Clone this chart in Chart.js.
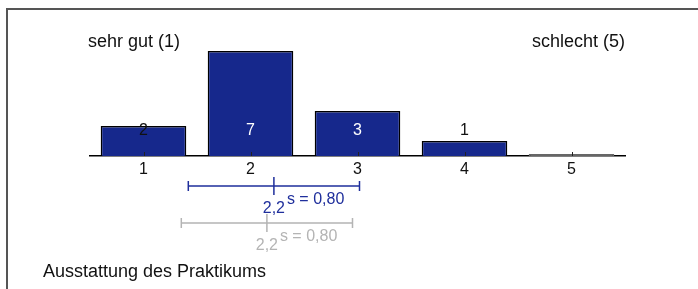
<!DOCTYPE html>
<html>
<head>
<meta charset="utf-8">
<script src="https://cdn.jsdelivr.net/npm/chart.js@4/dist/chart.umd.min.js"></script>
<style>
html,body{margin:0;padding:0;background:#fff;}
#wrap{position:relative;width:698px;height:289px;}
</style>
</head>
<body>
<div id="wrap"><canvas id="c" width="698" height="289"></canvas></div>
<script>
const categories = ['1', '2', '3', '4', '5'];
const counts = [2, 7, 3, 1, 0];
const leftLabel = 'sehr gut (1)';
const rightLabel = 'schlecht (5)';
const title = 'Ausstattung des Praktikums';
const statsMean = [2.2, 2.2];
const statsSd = [0.80, 0.80];
const statsMeanText = ['2,2', '2,2'];
const statsSdText = ['s = 0,80', 's = 0,80'];

const FONT = "'Liberation Sans', Arial, sans-serif";
const NAVY = '#16288c';
const statStyles = [
  {color: '#1f2f9c', y: 186, dx: 2, textY: 213, sY: 204},
  {color: '#b4b4b4', y: 223, dx: -5, textY: 250, sY: 241}
];

const overlay = {
  id: 'overlay',
  afterDraw(chart) {
    const ctx = chart.ctx;
    const x = chart.scales.x, y = chart.scales.y;
    const area = chart.chartArea;
    ctx.save();
    // frame
    ctx.strokeStyle = '#555';
    ctx.lineWidth = 2;
    ctx.beginPath();
    ctx.moveTo(7, 289); ctx.lineTo(7, 9); ctx.lineTo(698, 9);
    ctx.stroke();
    // headers
    ctx.fillStyle = '#111';
    ctx.font = '18px ' + FONT;
    ctx.textBaseline = 'alphabetic';
    ctx.textAlign = 'left';
    ctx.fillText(leftLabel, 88, 47);
    ctx.textAlign = 'right';
    ctx.fillText(rightLabel, area.right, 47);
    // tick marks
    ctx.strokeStyle = '#222';
    ctx.lineWidth = 1;
    categories.forEach((c, i) => {
      const px = Math.round(x.getPixelForValue(i)) + 0.5;
      ctx.beginPath();
      ctx.moveTo(px, area.bottom - 4); ctx.lineTo(px, area.bottom);
      ctx.stroke();
    });
    // value labels
    ctx.font = '16px ' + FONT;
    ctx.textAlign = 'center';
    ctx.textBaseline = 'middle';
    counts.forEach((v, i) => {
      if (!v) return;
      ctx.fillStyle = v >= 3 ? '#fff' : '#111';
      ctx.fillText(String(v), x.getPixelForValue(i), y.getPixelForValue(0) - 25);
    });
    // mean / sd bars
    statsMean.forEach((m, k) => {
      const st = statStyles[k];
      const pm = x.getPixelForValue(m - 1) + st.dx;
      const p0 = x.getPixelForValue(m - statsSd[k] - 1) + st.dx;
      const p1 = x.getPixelForValue(m + statsSd[k] - 1) + st.dx;
      ctx.strokeStyle = st.color;
      ctx.lineWidth = 1.5;
      ctx.beginPath();
      ctx.moveTo(p0, st.y); ctx.lineTo(p1, st.y);
      ctx.moveTo(p0, st.y - 5); ctx.lineTo(p0, st.y + 5);
      ctx.moveTo(p1, st.y - 5); ctx.lineTo(p1, st.y + 5);
      ctx.moveTo(pm, st.y - 9); ctx.lineTo(pm, st.y + 9);
      ctx.stroke();
      ctx.fillStyle = st.color;
      ctx.textBaseline = 'alphabetic';
      ctx.textAlign = 'center';
      ctx.font = '16px ' + FONT;
      ctx.fillText(statsMeanText[k], pm, st.textY);
      ctx.textAlign = 'left';
      ctx.font = '16px ' + FONT;
      ctx.fillText(statsSdText[k], pm + 13, st.sY);
    });
    // title
    ctx.fillStyle = '#111';
    ctx.font = '18px ' + FONT;
    ctx.textAlign = 'left';
    ctx.fillText(title, 43, 277);
    ctx.restore();
  }
};

new Chart(document.getElementById('c'), {
  type: 'bar',
  data: {
    labels: categories,
    datasets: [{
      data: counts,
      backgroundColor: counts.map(v => v ? NAVY : '#666'),
      borderColor: counts.map(v => v ? '#000' : '#666'),
      borderWidth: 1.5,
      borderSkipped: 'bottom',
      minBarLength: 2,
      barPercentage: 0.8,
      categoryPercentage: 1.0
    }]
  },
  options: {
    responsive: false,
    animation: false,
    events: [],
    layout: {padding: {left: 90, right: 73, top: 51, bottom: 113}},
    plugins: {legend: {display: false}, tooltip: {enabled: false}, title: {display: false}},
    scales: {
      x: {
        offset: true,
        grid: {display: true, drawOnChartArea: false, drawTicks: false},
        border: {display: true, color: '#000', width: 1.5},
        ticks: {color: '#111', font: {family: FONT, size: 16}, padding: 4},
        afterFit(s) { s.height = 20; }
      },
      y: {
        display: false,
        min: 0,
        max: 7
      }
    }
  },
  plugins: [overlay]
});
</script>
</body>
</html>
